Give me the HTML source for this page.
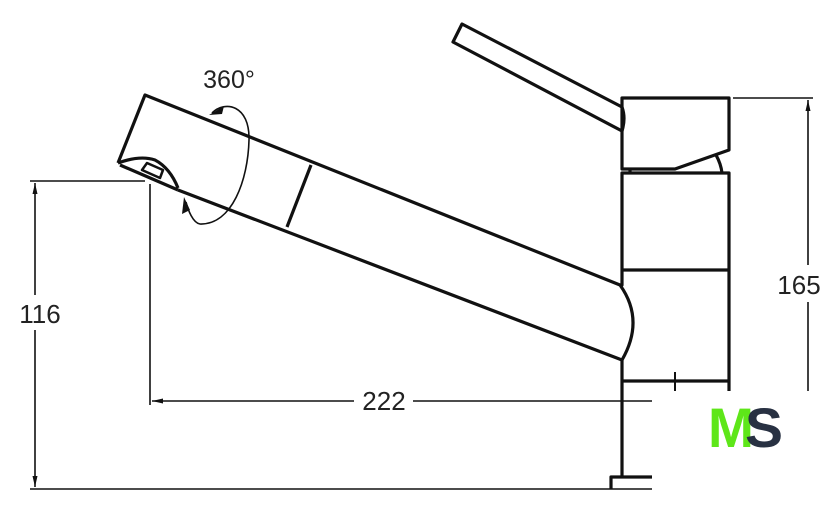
<!DOCTYPE html>
<html><head><meta charset="utf-8"><style>
html,body{margin:0;padding:0;background:#fff;}
svg{display:block;}
text{font-family:"Liberation Sans",sans-serif;fill:#222;}
</style></head><body>
<svg width="840" height="511" viewBox="0 0 840 511" xmlns="http://www.w3.org/2000/svg">
<g fill="none" stroke="#111" stroke-width="1.6">
  <line x1="30" y1="181" x2="145" y2="181"/>
  <line x1="35" y1="183" x2="35" y2="295"/>
  <line x1="35" y1="330" x2="35" y2="487"/>
  <line x1="30" y1="489" x2="652" y2="489"/>
  <line x1="150" y1="184" x2="150" y2="405"/>
  <line x1="152" y1="401" x2="354" y2="401"/>
  <line x1="413" y1="401" x2="652" y2="401"/>
  <line x1="733" y1="98" x2="813" y2="98"/>
  <line x1="808" y1="100" x2="808" y2="265"/>
  <line x1="808" y1="302" x2="808" y2="391"/>
</g>
<g fill="#111">
  <polygon points="35,183 32.5,194 37.5,194"/>
  <polygon points="35,487 32.5,476 37.5,476"/>
  <polygon points="152,401 163,398.5 163,403.5"/>
  <polygon points="808,100 805.5,111 810.5,111"/>
</g>
<text x="40" y="323" font-size="26" text-anchor="middle">116</text>
<text x="384" y="410" font-size="26" text-anchor="middle">222</text>
<text x="799" y="294" font-size="26" text-anchor="middle">165</text>
<text x="229" y="88" font-size="25" text-anchor="middle">360°</text>

<g fill="none" stroke="#111" stroke-width="3.2" stroke-linejoin="round">
  <polyline points="622,107 462,24 453,42 622,131"/>
  <path d="M622,98 L729,98 L729,150 L675,169 L622,169 Z"/>
  <path d="M622,107 Q626,118 622,131"/>
  <path d="M716,155 Q721,164 722,173"/>
  <line x1="630" y1="169" x2="630" y2="173"/>
  <polyline points="620,285 622,285 622,173 729,173 729,391"/>
  <line x1="622" y1="270" x2="729" y2="270"/>
  <line x1="622" y1="381" x2="729" y2="381"/>
  <line x1="675" y1="372" x2="675" y2="391" stroke-width="2"/>
  <line x1="622" y1="360" x2="622" y2="477"/>
  <polyline points="652,477 611,477 611,489"/>
  <path d="M118,163 L145,95 L620,285 Q645,320 622,360 L178,190"/>
  <line x1="311" y1="165" x2="287" y2="227"/>
  <path d="M118,163 Q140,155 155,160 Q170,168 178,188"/>
  <path d="M120,165 L178,190"/>
  <path d="M142,170 L147,163 L163,170 L160,178 Z" stroke-width="2.5"/>
</g>
<g fill="none" stroke="#111" stroke-width="1.6">
  <path d="M212,113 C225,100 250,105 249,140 C248,180 232,225 200,224 C193,223 188,210 186,202"/>
</g>
<g fill="#111">
  <polygon points="209,115 224,106 222,114"/>
  <polygon points="184,197 182,214 190,210"/>
</g>
<text x="708" y="447" font-size="56" font-weight="bold" style="fill:#5ee619" textLength="46" lengthAdjust="spacingAndGlyphs">M</text>
<text x="745" y="447" font-size="56" font-weight="bold" style="fill:#283142" textLength="38" lengthAdjust="spacingAndGlyphs">S</text>
</svg>
</body></html>
